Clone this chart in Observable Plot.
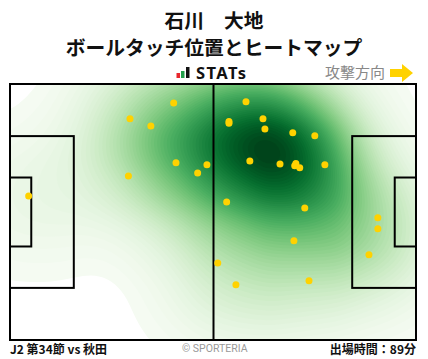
<!DOCTYPE html>
<html>
<head>
<meta charset="utf-8">
<script src="https://cdn.jsdelivr.net/npm/d3@7"></script>
<script src="https://cdn.jsdelivr.net/npm/@observablehq/plot@0.6"></script>
<style>
  body { margin: 0; background: #fff; font-family: "Noto Sans CJK JP", "Noto Sans", sans-serif; }
  #wrap { position: relative; width: 428px; height: 359px; overflow: hidden; }
  .abs { position: absolute; white-space: nowrap; }
  .title { left: 0; width: 428px; text-align: center; font-weight: 700; font-size: 19.8px; color: #111; line-height: 20px; }
  #chart { position: absolute; left: 0; top: 80px; }
  .foot { top: 341px; font-size: 12px; line-height: 16px; }
</style>
</head>
<body>
<div id="wrap">
  <div class="abs title" style="top:10px;">石川　大地</div>
  <div class="abs title" style="top:37px;">ボールタッチ位置とヒートマップ</div>
  <div class="abs" style="left:176px; top:64px; height:16px; width:80px;">
    <svg width="16" height="16" style="position:absolute;left:0;top:0">
      <rect x="0.5" y="9" width="3.5" height="5" fill="#e8262c"></rect>
      <rect x="5" y="7" width="3.5" height="7" fill="#22a04b"></rect>
      <rect x="10" y="3" width="3.5" height="11" fill="#111"></rect>
    </svg>
    <span style="position:absolute;left:20px;top:-3px;font-family:'Noto Sans',sans-serif;font-weight:700;font-size:16.5px;letter-spacing:1.4px;color:#111;">STATs</span>
  </div>
  <div class="abs" style="left:325px; top:62px; font-size:15px; color:#888; line-height:20px;">攻撃方向</div>
  <svg class="abs" style="left:390px; top:64px;" width="24" height="18">
    <polygon points="0,5 12,5 12,0 23,9 12,18 12,13 0,13" fill="#ffd200"></polygon>
  </svg>
  <div id="chart"></div>
  <div class="abs foot" style="left:10px; font-weight:700; color:#111;">J2 第34節 vs 秋田</div>
  <div class="abs foot" style="left:182px; font-size:10.5px; color:#999; font-family:'Roboto','Noto Sans',sans-serif;">© SPORTERIA</div>
  <div class="abs foot" style="right:12px; font-weight:700; color:#111;">出場時間：89分</div>
</div>
<script>
// Ball touch positions (metres; x along 105 m pitch, y from top of 68 m pitch)
const touchX = [42.2, 30.9, 36.3, 42.8, 50.8, 48.4, 30.5, 4.7, 60.9, 56.5, 56.5, 65.3, 65.8, 73.0, 78.7,
                61.9, 69.7, 73.8, 73.5, 74.8, 81.3, 55.9, 76.1, 95.0, 95.0, 92.7, 73.3, 53.6, 58.3, 77.2];
const touchY = [4.9, 9.1, 11.0, 20.8, 21.3, 23.5, 24.3, 29.6, 4.6, 9.8, 10.3, 9.1, 11.8, 12.8, 13.6,
                20.3, 21.1, 21.0, 21.6, 22.1, 21.3, 31.2, 32.8, 35.4, 38.3, 45.2, 41.5, 47.4, 53.2, 52.1];
const touches = touchX.map((x, i) => ({x, y: touchY[i]}));

// Pitch markings (metres)
const pitchLength = 105, pitchWidth = 68;
const pitchRects = [
  {x1: 0, x2: 105, y1: 0, y2: 68},
  {x1: 0, x2: 16.5, y1: 13.84, y2: 54.16},
  {x1: 88.5, x2: 105, y1: 13.84, y2: 54.16},
  {x1: 0, x2: 5.5, y1: 24.84, y2: 43.16},
  {x1: 99.5, x2: 105, y1: 24.84, y2: 43.16}
];
const halfway = [52.5];

const chart = Plot.plot({
  width: 428,
  height: 264,
  marginLeft: 10,
  marginRight: 12,
  marginTop: 4,
  marginBottom: 4,
  x: {domain: [0, pitchLength], axis: null},
  y: {domain: [0, pitchWidth], reverse: true, axis: null},
  color: {scheme: "greens", type: "linear"},
  marks: [
    Plot.density(touches, {x: "x", y: "y", bandwidth: 43, thresholds: 60, fill: "density", clip: true}),
    Plot.rect(pitchRects, {x1: "x1", x2: "x2", y1: "y1", y2: "y2", fill: "none", stroke: "#000", strokeWidth: 2}),
    Plot.ruleX(halfway, {stroke: "#000", strokeWidth: 2}),
    Plot.dot(touches, {x: "x", y: "y", r: 3.5, fill: "#ffd200", stroke: "none"})
  ]
});
document.getElementById("chart").appendChild(chart);
</script>
</body>
</html>
